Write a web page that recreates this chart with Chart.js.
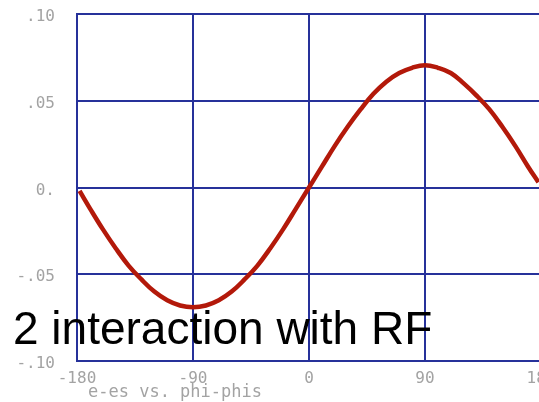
<!DOCTYPE html>
<html>
<head>
<meta charset="utf-8">
<script src="https://cdn.jsdelivr.net/npm/chart.js@4/dist/chart.umd.min.js"></script>
<style>
  html, body { margin: 0; padding: 0; background: #fff; overflow: hidden; width: 539px; height: 402px; }
  #c { display: block; }
</style>
</head>
<body>
<canvas id="c" width="560" height="402"></canvas>
<script>
// ---- data ----
const phase = [-178,-170,-160,-150,-140,-130,-120,-110,-100,-90,-80,-70,-60,-50,-40,-30,-20,-10,0,10,20,30,40,50,60,70,80,90,100,110,120,130,140,150,160,170,178];
const energy = [-0.002,-0.012,-0.024,-0.035,-0.045,-0.053,-0.060,-0.065,-0.068,-0.069,-0.068,-0.065,-0.060,-0.053,-0.045,-0.035,-0.024,-0.012,0.000,0.012,0.024,0.035,0.045,0.054,0.061,0.066,0.069,0.0705,0.069,0.066,0.060,0.053,0.045,0.035,0.024,0.012,0.003];
const xTickLabels = ["-180","-90","0","90","180"];
const yTickLabels = ["-.10","-.05","0.",".05",".10"];
const axisTitle = "e-es vs. phi-phis";
const overlayText = "2 interaction with RF";

const points = phase.map((x, i) => ({ x: x, y: energy[i] }));

const gridColor = '#26319a';
const tickColor = '#a3a3a3';
const curveColor = '#b3190a';

const textPlugin = {
  id: 'texts',
  afterDraw(chart) {
    const ctx = chart.ctx;
    ctx.save();
    ctx.fillStyle = tickColor;
    ctx.font = '17px "DejaVu Sans Mono"';
    ctx.textAlign = 'left';
    ctx.textBaseline = 'middle';
    ctx.fillText(axisTitle, 88, 393);
    ctx.fillStyle = '#000';
    ctx.font = '46px "Liberation Sans"';
    ctx.textBaseline = 'alphabetic';
    ctx.fillText(overlayText, 13, 344);
    ctx.restore();
  }
};

function zeroPad(s) { s.paddingTop = 0; s.paddingBottom = 0; s.paddingLeft = 0; s.paddingRight = 0; }

new Chart(document.getElementById('c'), {
  type: 'line',
  data: {
    datasets: [{
      data: points,
      borderColor: curveColor,
      borderWidth: 4.5,
      pointRadius: 0,
      tension: 0.4,
      fill: false
    }]
  },
  options: {
    responsive: false,
    animation: false,
    devicePixelRatio: 1,
    layout: { padding: { left: 0, right: 19, top: 14, bottom: 0 } },
    plugins: { legend: { display: false }, tooltip: { enabled: false } },
    scales: {
      x: {
        type: 'linear',
        min: -180, max: 180,
        afterBuildTicks: s => { s.ticks = [-180,-90,0,90,180].map(v => ({ value: v })); },
        afterFit: s => { s.height = 41; zeroPad(s); },
        grid: { color: gridColor, lineWidth: 2, drawTicks: false },
        border: { color: gridColor, width: 2 },
        ticks: {
          color: tickColor,
          font: { family: 'DejaVu Sans Mono', size: 16 },
          padding: 8,
          maxRotation: 0,
          autoSkip: false,
          callback: (v, i) => xTickLabels[i]
        }
      },
      y: {
        type: 'linear',
        min: -0.1, max: 0.1,
        afterBuildTicks: s => { s.ticks = [-0.1,-0.05,0,0.05,0.1].map(v => ({ value: v })); },
        afterFit: s => { s.width = 77; zeroPad(s); },
        grid: { color: gridColor, lineWidth: 2, drawTicks: false },
        border: { color: gridColor, width: 2 },
        ticks: {
          color: tickColor,
          font: { family: 'DejaVu Sans Mono', size: 16 },
          padding: 22,
          labelOffset: 3,
          autoSkip: false,
          callback: (v, i) => yTickLabels[i]
        }
      }
    }
  },
  plugins: [textPlugin]
});
</script>
</body>
</html>
